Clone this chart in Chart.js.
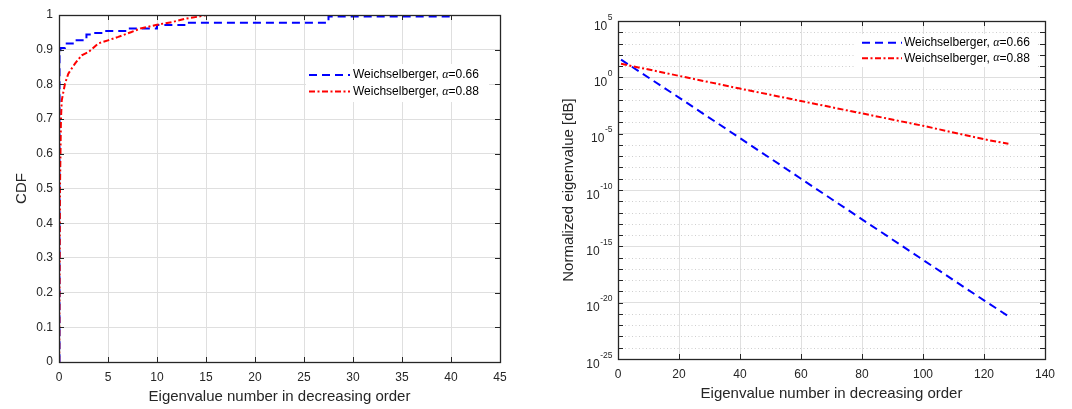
<!DOCTYPE html>
<html>
<head>
<meta charset="utf-8">
<script src="https://cdn.jsdelivr.net/npm/chart.js@4.4.0/dist/chart.umd.min.js"></script>
<style>
  html, body { margin: 0; padding: 0; background: #fff; }
  #wrap { position: relative; width: 1072px; height: 409px; overflow: hidden; }
  canvas { position: absolute; top: 0; }
</style>
</head>
<body>
<div id="wrap">
  <canvas id="cdfChart" width="530" height="409" style="left:0"></canvas>
  <canvas id="eigChart" width="532" height="409" style="left:540px"></canvas>
</div>
<script>
(function () {
  'use strict';

  // ---- left panel: CDF ----
  const cdfXMax = 45;
  const cdfBlueX = [0.03, 0.05, 0.15, 0.6, 1.6, 2.8, 3.7, 4.7, 7, 10, 13, 27.5, 40.1];
  const cdfBlueY = [0, 0.89, 0.905, 0.918, 0.927, 0.944, 0.948, 0.954, 0.961, 0.971, 0.978, 0.996, 0.996];
  const cdfRedX = [0.02, 0.1, 0.2, 0.28, 0.61, 0.95, 1.63, 2.32, 3.0, 4.0, 5.0, 6.05, 7.4, 8.3, 10, 11.6, 13, 14.4, 15.1];
  const cdfRedY = [0, 0.5, 0.7, 0.754, 0.802, 0.831, 0.86, 0.884, 0.893, 0.918, 0.927, 0.937, 0.951, 0.961, 0.972, 0.98, 0.99, 0.996, 1.0];

  // ---- right panel: normalized eigenvalues ----
  const eigIndex = [1, 20, 40, 60, 80, 100, 120, 128];
  const eigBlue = [3.7e1, 1.6e-2, 4.0e-6, 1.0e-9, 2.5e-13, 6.3e-17, 1.6e-20, 6.3e-22];
  const eigRed = [1.6e1, 1.35, 1.0e-1, 7.9e-3, 6.3e-4, 5.0e-5, 3.2e-6, 1.26e-6];
  const eigExpTicks = [5, 0, -5, -10, -15, -20, -25];

  const labels = ['Weichselberger, \u03b1=0.66', 'Weichselberger, \u03b1=0.88'];

  const FONT = '"Liberation Sans", Arial, Helvetica, sans-serif';
  const TXT = '#262626';
  const GRID = '#dfdfdf';
  const MINOR = '#cfcfcf';
  const BLUE = '#0000ff';
  const RED = '#ff0000';
  const BLUE_DASH = [8, 5];
  const RED_DASH = [6, 2.5, 2, 2.5];

  function pts(xs, ys) {
    return xs.map(function (x, i) { return { x: x, y: ys[i] }; });
  }

  function line(ctx, x1, y1, x2, y2) {
    ctx.beginPath();
    ctx.moveTo(x1, y1);
    ctx.lineTo(x2, y2);
    ctx.stroke();
  }

  // box, inward ticks, dotted minor grid, legend, log labels
  const matlabAxes = {
    id: 'matlabAxes',
    beforeDatasetsDraw(chart, args, opts) {
      if (!opts.logY) return;
      const ctx = chart.ctx, a = chart.chartArea, ys = chart.scales.y;
      ctx.save();
      ctx.strokeStyle = MINOR;
      ctx.lineWidth = 1;
      ctx.setLineDash([1, 2.5]);
      ys.ticks.forEach(function (t) {
        const e = Math.round(Math.log10(t.value));
        if (e % 5 === 0) return;
        const y = Math.round(ys.getPixelForValue(t.value)) + 0.5;
        line(ctx, a.left, y, a.right, y);
      });
      ctx.restore();
    },
    afterDraw(chart, args, opts) {
      const ctx = chart.ctx, a = chart.chartArea;
      const xs = chart.scales.x, ys = chart.scales.y;
      ctx.save();
      ctx.strokeStyle = TXT;
      ctx.lineWidth = 1;
      const tl = 5;
      xs.ticks.forEach(function (t) {
        const x = Math.round(xs.getPixelForValue(t.value)) + 0.5;
        line(ctx, x, a.bottom, x, a.bottom - tl);
        line(ctx, x, a.top, x, a.top + tl);
      });
      ys.ticks.forEach(function (t) {
        const y = Math.round(ys.getPixelForValue(t.value)) + 0.5;
        line(ctx, a.left, y, a.left + tl, y);
        line(ctx, a.right, y, a.right - tl, y);
      });
      ctx.lineWidth = 1.3;
      ctx.strokeRect(Math.round(a.left) + 0.5, Math.round(a.top) + 0.5,
        Math.round(a.right - a.left), Math.round(a.bottom - a.top));

      if (opts.logY) {
        ctx.fillStyle = TXT;
        ctx.textAlign = 'right';
        ctx.textBaseline = 'alphabetic';
        eigExpTicks.forEach(function (e) {
          const y = ys.getPixelForValue(Math.pow(10, e));
          const xr = a.left - 5.5;
          const es = e < 0 ? '-' + (-e) : String(e);
          ctx.font = '8.5px ' + FONT;
          const ew = ctx.measureText(es).width;
          ctx.fillText(es, xr, y - 1.5);
          ctx.font = '12px ' + FONT;
          ctx.fillText('10', xr - ew - 0.5, y + 8.5);
        });
      }

      const lg = opts.legend;
      if (lg) {
        ctx.fillStyle = '#fff';
        ctx.fillRect(lg.box[0], lg.box[1], lg.box[2] - lg.box[0], lg.box[3] - lg.box[1]);
        chart.data.datasets.forEach(function (ds, i) {
          const y = lg.rows[i];
          ctx.strokeStyle = ds.borderColor;
          ctx.lineWidth = 2;
          ctx.setLineDash(ds.borderDash);
          line(ctx, lg.x0, y, lg.x1, y);
          ctx.setLineDash([]);
          const parts = ds.label.split('\u03b1');
          ctx.fillStyle = '#000';
          ctx.textAlign = 'left';
          ctx.textBaseline = 'middle';
          let x = lg.tx;
          ctx.font = '12px ' + FONT;
          ctx.fillText(parts[0], x, y);
          x += ctx.measureText(parts[0]).width;
          ctx.font = 'italic 12px "Liberation Serif", serif';
          ctx.fillText('\u03b1', x, y);
          x += ctx.measureText('\u03b1').width;
          ctx.font = '12px ' + FONT;
          ctx.fillText(parts[1], x, y);
        });
      }
      ctx.restore();
    }
  };

  function tickFont() { return { size: 12, family: FONT }; }
  function titleFont() { return { size: 15, family: FONT }; }

  new Chart(document.getElementById('cdfChart'), {
    type: 'line',
    data: {
      datasets: [{
        label: labels[0],
        data: pts(cdfBlueX, cdfBlueY),
        borderColor: BLUE,
        borderDash: BLUE_DASH,
        borderWidth: 2,
        pointRadius: 0,
        stepped: 'before',
        order: 1
      }, {
        label: labels[1],
        data: pts(cdfRedX, cdfRedY),
        borderColor: RED,
        borderDash: RED_DASH,
        borderWidth: 2,
        pointRadius: 0,
        tension: 0,
        order: 0
      }]
    },
    options: {
      responsive: false,
      animation: false,
      devicePixelRatio: 1,
      layout: { padding: { left: 0, right: 30, top: 15, bottom: 0 } },
      plugins: {
        legend: { display: false },
        tooltip: { enabled: false },
        matlabAxes: {
          legend: { box: [306, 64, 489, 102], x0: 309, x1: 350, tx: 353, rows: [75, 91.5] }
        }
      },
      scales: {
        x: {
          type: 'linear', min: 0, max: cdfXMax,
          afterFit: function (s) { s.height = 47; },
          ticks: { stepSize: 5, padding: 8, color: TXT, font: tickFont(), maxRotation: 0 },
          grid: { color: GRID, drawTicks: false },
          border: { display: false },
          title: { display: true, text: 'Eigenvalue number in decreasing order', color: TXT, font: titleFont(), padding: { top: 0, bottom: 3 } }
        },
        y: {
          type: 'linear', min: 0, max: 1,
          afterFit: function (s) { s.width = 59; },
          ticks: { stepSize: 0.1, padding: 6, color: TXT, font: tickFont(),
            callback: function (v) { return String(+v.toFixed(1)); } },
          grid: { color: GRID, drawTicks: false },
          border: { display: false },
          title: { display: true, text: 'CDF', color: TXT, font: titleFont(), padding: { top: 13, bottom: 0 } }
        }
      }
    },
    plugins: [matlabAxes]
  });

  new Chart(document.getElementById('eigChart'), {
    type: 'line',
    data: {
      datasets: [{
        label: labels[0],
        data: pts(eigIndex, eigBlue),
        borderColor: BLUE,
        borderDash: BLUE_DASH,
        borderWidth: 2,
        pointRadius: 0,
        order: 1
      }, {
        label: labels[1],
        data: pts(eigIndex, eigRed),
        borderColor: RED,
        borderDash: RED_DASH,
        borderWidth: 2,
        pointRadius: 0,
        order: 0
      }]
    },
    options: {
      responsive: false,
      animation: false,
      devicePixelRatio: 1,
      layout: { padding: { left: 0, right: 27, top: 21, bottom: 0 } },
      plugins: {
        legend: { display: false },
        tooltip: { enabled: false },
        matlabAxes: {
          logY: true,
          legend: { box: [316, 34, 497, 67], x0: 322, x1: 362, tx: 364, rows: [42.7, 58.3] }
        }
      },
      scales: {
        x: {
          type: 'linear', min: 0, max: 140,
          afterFit: function (s) { s.height = 50; },
          ticks: { stepSize: 20, padding: 8, color: TXT, font: tickFont(), maxRotation: 0 },
          grid: { color: GRID, drawTicks: false },
          border: { display: false },
          title: { display: true, text: 'Eigenvalue number in decreasing order', color: TXT, font: titleFont(), padding: { top: 0, bottom: 6 } }
        },
        y: {
          type: 'logarithmic', min: 1e-25, max: 1e5,
          afterFit: function (s) { s.width = 78; },
          afterBuildTicks: function (s) {
            const t = [];
            for (let e = -25; e <= 5; e++) t.push({ value: Math.pow(10, e) });
            s.ticks = t;
          },
          ticks: { padding: 6, color: TXT, font: tickFont(), autoSkip: false,
            callback: function () { return ''; } },
          grid: {
            drawTicks: false,
            color: function (c) {
              if (!c.tick) return GRID;
              return Math.round(Math.log10(c.tick.value)) % 5 === 0 ? GRID : 'rgba(0,0,0,0)';
            }
          },
          border: { display: false },
          title: { display: true, text: 'Normalized eigenvalue [dB]', color: TXT, font: titleFont(), padding: { top: 20, bottom: 0 } }
        }
      }
    },
    plugins: [matlabAxes]
  });
})();
</script>
</body>
</html>
